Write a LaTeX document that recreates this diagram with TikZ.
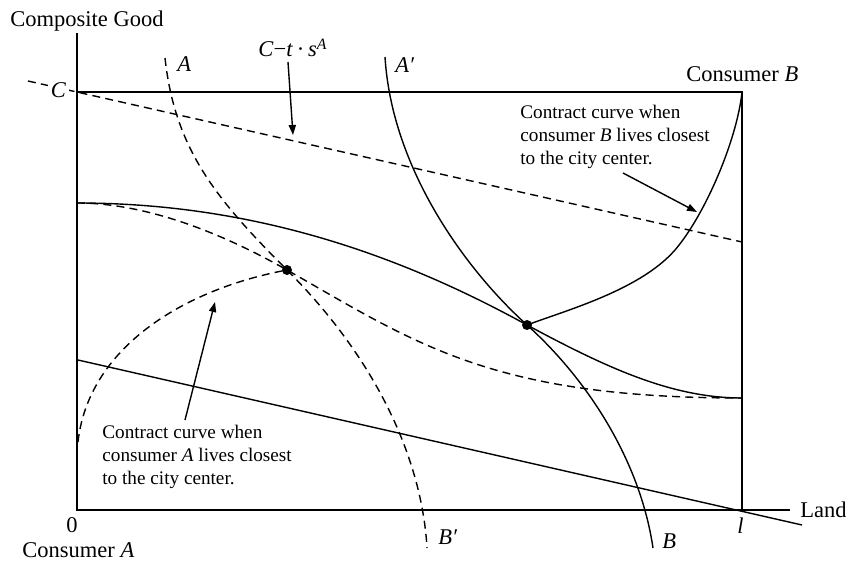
\documentclass[tikz,border=0pt]{standalone}
\usepackage{fontspec}
\setmainfont{Liberation Serif}
\usetikzlibrary{arrows.meta}
\begin{document}
\begin{tikzpicture}[x=0.5pt,y=-0.5pt,
  axis/.style={line width=1.1pt},
  curve/.style={line width=0.7pt},
  dsh/.style={line width=0.7pt, dash pattern=on 4pt off 2.6pt},
  lbl/.style={inner sep=0pt, anchor=base west, font=\fontsize{11.25}{13}\selectfont},
  note/.style={inner sep=0pt, anchor=base west, font=\fontsize{9.6}{11.5}\selectfont},
  pt/.style={circle, fill=black, inner sep=0pt, minimum size=5pt},
  arr/.style={line width=0.7pt, -{Triangle[length=5pt,width=3.6pt]}}]
\useasboundingbox (0,0) rectangle (846,561);
% axes and box
\coordinate (O) at (77,510);
\coordinate (Ytop) at (77,33);
\coordinate (Xend) at (790,510);
\coordinate (TL) at (77,92);
\coordinate (TR) at (742,92);
\coordinate (BR) at (742,510);
% budget lines
\coordinate (bd1) at (28,81);
\coordinate (bd2) at (742,242);
\coordinate (lb1) at (78,360);
\coordinate (lb2) at (802,525);
\draw[dsh] (bd1) -- (bd2);
\draw[curve] (lb1) -- (lb2);
\draw[axis] (Ytop) -- (O) -- (Xend);
\draw[axis] (TL) -- (TR) -- (BR);
% dots (positions)
\coordinate (pA) at (287,270);
\coordinate (pB) at (527,325);
\coordinate (ic0) at (77,203);
\coordinate (ic1) at (742,398);
% solid indifference curve
\draw[curve] (ic0) .. controls (260,203) and (407,259) .. (pB)
                   .. controls (607,368) and (672,398) .. (ic1);
% dashed indifference curve
\draw[dsh] (ic0) .. controls (150,203) and (227,236) .. (pA)
                 .. controls (417,344) and (492,398) .. (ic1);
% curve A (dashed)
\coordinate (Atop) at (165,58);
\coordinate (Abot) at (427,548);
\draw[dsh] (Atop) .. controls (175,150) and (217,200) .. (pA)
                  .. controls (377,360) and (422,460) .. (Abot);
% curve A' (solid)
\coordinate (Aptop) at (385,57);
\coordinate (Apbot) at (653,548);
\draw[curve] (Aptop) .. controls (392,170) and (467,271) .. (pB)
                     .. controls (587,379) and (640,460) .. (Apbot);
% contract curves
\coordinate (ccA) at (78,442);
\draw[dsh] (ccA) .. controls (88,350) and (180,290) .. (pA);
\coordinate (ccBm) at (675,250);
\draw[curve] (pB) .. controls (567,310) and (640,290) .. (ccBm)
                  .. controls (705,215) and (737,140) .. (TR);
% dots
\node[pt] (dA) at (pA) {};
\node[pt] (dB) at (pB) {};
% labels
\node[lbl] (cg) at (10,27) {Composite Good};
\node[inner sep=1.5pt, fill=white, font=\fontsize{11.25}{13}\selectfont] (Cl) at (58.5,90) {\textit{C}};
\node[lbl] (Al) at (177,72) {\textit{A}};
\node[lbl] (Apl) at (395,73) {\textit{A′}};
\node[lbl] (ctl) at (258,57) {\textit{C}−\textit{t}\,·\,\textit{s}\textsuperscript{\textit{A}}};
\node[lbl] (cB) at (686,82) {Consumer \textit{B}};
\node[lbl] (land) at (800,517) {Land};
\node[lbl] (ll) at (737,533) {\textit{l}};
\node[lbl] (Bl) at (662,548) {\textit{B}};
\node[lbl] (Bpl) at (438,544) {\textit{B′}};
\node[lbl] (zero) at (66,532) {0};
\node[lbl] (cA) at (22,557) {Consumer \textit{A}};
% notes
\node[note] (nB1) at (520,119) {Contract curve when};
\node[note] (nB2) at (520,142) {consumer \textit{B} lives closest};
\node[note] (nB3) at (520,165) {to the city center.};
\node[note] (nA1) at (102,438) {Contract curve when};
\node[note] (nA2) at (102,461) {consumer \textit{A} lives closest};
\node[note] (nA3) at (102,484) {to the city center.};
% arrows
\coordinate (aCt) at (288,62);
\coordinate (aCh) at (293,135);
\coordinate (aBt) at (623,173);
\coordinate (aBh) at (697,212);
\coordinate (aAt) at (185,420);
\coordinate (aAh) at (215,302);
\draw[arr] (aCt) -- (aCh);
\draw[arr] (aBt) -- (aBh);
\draw[arr] (aAt) -- (aAh);
\end{tikzpicture}
\end{document}
